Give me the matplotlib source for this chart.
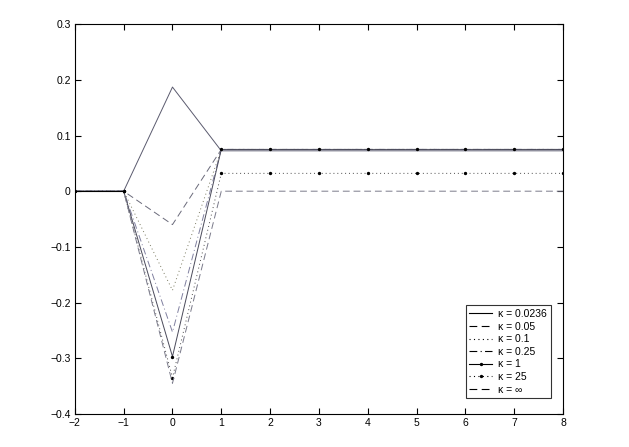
"""Impulse responses for several values of kappa."""

import matplotlib

matplotlib.use("Agg")
import matplotlib.pyplot as plt

plt.rcParams["font.family"] = ["Liberation Sans", "DejaVu Sans"]

horizon = [-2, -1, 0, 1, 2, 3, 4, 5, 6, 7, 8]

kappa_labels = ["κ = 0.0236", "κ = 0.05", "κ = 0.1", "κ = 0.25", "κ = 1", "κ = 25", "κ = ∞"]

resp_0236 = [0, 0, 0.187, 0.0725, 0.0725, 0.0725, 0.0725, 0.0725, 0.0725, 0.0725, 0.0725]
resp_005 = [0, 0, -0.060, 0.075, 0.075, 0.075, 0.075, 0.075, 0.075, 0.075, 0.075]
resp_01 = [0, 0, -0.178, 0.075, 0.075, 0.075, 0.075, 0.075, 0.075, 0.075, 0.075]
resp_025 = [0, 0, -0.253, 0.075, 0.075, 0.075, 0.075, 0.075, 0.075, 0.075, 0.075]
resp_1 = [0, 0, -0.297, 0.075, 0.075, 0.075, 0.075, 0.075, 0.075, 0.075, 0.075]
resp_25 = [0, 0, -0.335, 0.032, 0.032, 0.032, 0.032, 0.032, 0.032, 0.032, 0.032]
resp_inf = [0, 0, -0.345, 0, 0, 0, 0, 0, 0, 0, 0]

series = [resp_0236, resp_005, resp_01, resp_025, resp_1, resp_25, resp_inf]
styles = [
    dict(linestyle="-", color="#5a5a6e"),
    dict(linestyle=(0, (7, 4)), color="#6a6a7a"),
    dict(linestyle=(0, (1, 3)), color="#7a7a60"),
    dict(linestyle=(0, (7, 3, 1, 3)), color="#8080a0"),
    dict(linestyle="-", color="#4a4a5a", marker="o", markersize=1.4,
         markerfacecolor="black", markeredgecolor="black"),
    dict(linestyle=(0, (1, 3)), color="#4a4a4a", marker="o", markersize=1.4,
         markerfacecolor="black", markeredgecolor="black"),
    dict(linestyle=(0, (7, 4)), color="#7a7a8a"),
]

fig = plt.figure(figsize=(6.29, 4.47), dpi=100)
ax = fig.add_axes([0.119, 0.074, 0.776, 0.872])

handles = []
for values, label, style in zip(series, kappa_labels, styles):
    ax.plot(horizon, values, linewidth=0.7, **style)
    legend_style = dict(style)
    legend_style["color"] = "black"
    (handle,) = ax.plot([], [], linewidth=0.8, label=label, **legend_style)
    handles.append(handle)

ax.plot([-2, -1], [0, 0], color="black", linewidth=0.8)

ax.set_xlim(-2, 8)
ax.set_ylim(-0.4, 0.3)
ax.set_xticks(range(-2, 9))
ax.set_yticks([-0.4, -0.3, -0.2, -0.1, 0, 0.1, 0.2, 0.3])
ax.set_yticklabels(["−0.4", "−0.3", "−0.2", "−0.1", "0", "0.1", "0.2", "0.3"])
ax.set_xticklabels(["−2", "−1", "0", "1", "2", "3", "4", "5", "6", "7", "8"])
ax.tick_params(direction="in", top=True, right=True, length=4, width=0.8,
               labelsize=7.5, pad=3)
for spine in ax.spines.values():
    spine.set_linewidth(0.8)

legend = ax.legend(handles=handles, loc="lower right", bbox_to_anchor=(0.975, 0.04),
                   fontsize=7.5, frameon=True, fancybox=False, edgecolor="black",
                   handlelength=2.2, handletextpad=0.6, labelspacing=0.25,
                   borderpad=0.35, borderaxespad=0.0)
legend.get_frame().set_linewidth(0.8)

fig.savefig("out.png", dpi=100, facecolor="white")
